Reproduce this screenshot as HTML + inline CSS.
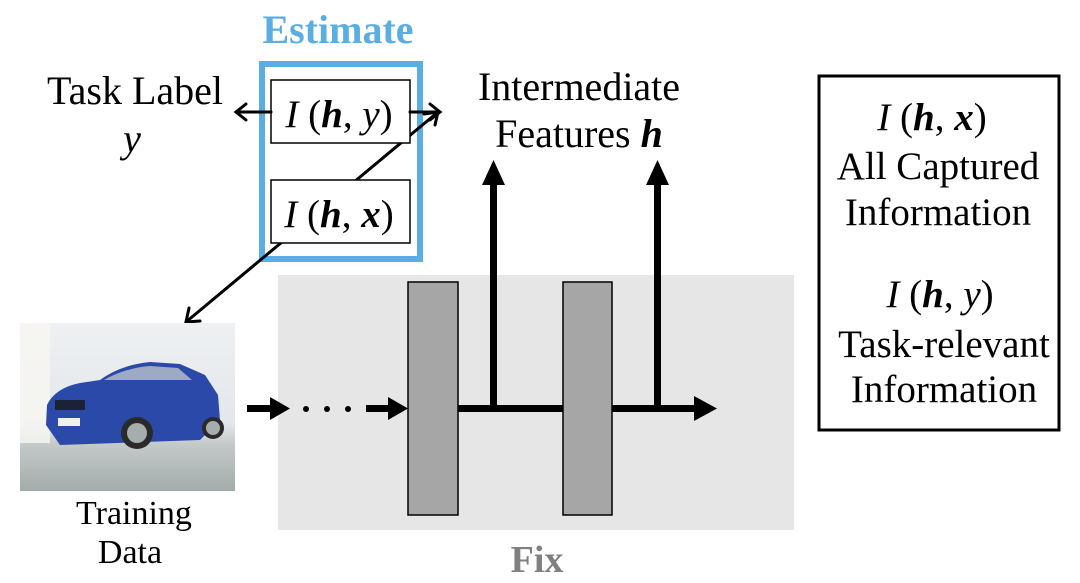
<!DOCTYPE html>
<html><head><meta charset="utf-8"><style>
html,body{margin:0;padding:0;background:#fff;}
svg{display:block;}
text{font-family:"Liberation Serif",serif;}
</style></head><body>
<svg width="1080" height="583" viewBox="0 0 1080 583" xmlns="http://www.w3.org/2000/svg">
<defs>
<linearGradient id="wall" x1="0" y1="0" x2="0" y2="1">
<stop offset="0" stop-color="#eef0f2"/><stop offset="0.6" stop-color="#e4e7ea"/><stop offset="0.72" stop-color="#c4cac9"/><stop offset="1" stop-color="#a3acaa"/></linearGradient>
</defs>
<rect x="278" y="275" width="516" height="255" fill="#e6e6e6"/>
<text x="537" y="572" font-size="38" font-weight="bold" fill="#808080" text-anchor="middle">Fix</text>

<text x="338" y="43" font-size="40" font-weight="bold" fill="#5aaee2" text-anchor="middle">Estimate</text>
<rect x="262" y="64" width="158" height="195" fill="none" stroke="#5aaee2" stroke-width="6"/>

<g stroke="#000" stroke-width="3" fill="none" stroke-linecap="round">
<line x1="186" y1="322" x2="438" y2="112"/>
<polyline points="189,308 186,322 200,321"/>
<polyline points="424,114 438,112 435,125"/>
</g>

<rect x="271" y="80" width="139" height="63" fill="#fff" stroke="#000" stroke-width="1.5"/>
<rect x="271" y="180" width="139" height="63" fill="#fff" stroke="#000" stroke-width="1.5"/>
<text x="339" y="127" font-size="39" text-anchor="middle" font-style="italic">I<tspan font-style="normal"> (</tspan><tspan font-weight="bold">h</tspan><tspan font-style="normal">, </tspan>y<tspan font-style="normal">)</tspan></text>
<text x="339" y="227" font-size="39" text-anchor="middle" font-style="italic">I<tspan font-style="normal"> (</tspan><tspan font-weight="bold">h</tspan><tspan font-style="normal">, </tspan><tspan font-weight="bold">x</tspan><tspan font-style="normal">)</tspan></text>

<text x="135" y="104" font-size="40" text-anchor="middle">Task Label</text>
<text x="132" y="152" font-size="40" text-anchor="middle" font-style="italic">y</text>

<text x="579" y="100" font-size="40" text-anchor="middle">Intermediate</text>
<text x="579" y="147" font-size="40" text-anchor="middle">Features <tspan font-weight="bold" font-style="italic">h</tspan></text>

<g stroke="#000" stroke-width="3" fill="none" stroke-linecap="round">
<line x1="271" y1="112" x2="236" y2="112"/>
<polyline points="246,104 236,112 246,120"/>
<line x1="410" y1="112" x2="440" y2="112"/>
<polyline points="430,104 440,112 430,120"/>
</g>

<!-- car image -->
<rect x="20" y="323" width="215" height="168" fill="url(#wall)"/>
<rect x="20" y="323" width="30" height="120" fill="#f7f6f2" opacity="0.8"/>
<path d="M46,425 L47,405 Q55,388 80,383 L100,380 Q120,365 150,362 L180,364 L205,375 L218,395 L220,420 L200,440 L60,445 Z" fill="#2b49a8"/>
<path d="M104,380 Q125,368 150,366 L178,368 L192,380 Z" fill="#9eaac4"/>
<rect x="55" y="400" width="30" height="10" fill="#1c2236"/>
<rect x="58" y="418" width="22" height="8" fill="#f0f0f0"/>
<circle cx="137" cy="433" r="16" fill="#2a2a2a"/><circle cx="137" cy="433" r="10" fill="#a5adad"/>
<circle cx="213" cy="428" r="11" fill="#2a2a2a"/><circle cx="213" cy="428" r="7" fill="#a5adad"/>

<text x="134" y="524" font-size="34" text-anchor="middle">Training</text>
<text x="130" y="563" font-size="34" text-anchor="middle">Data</text>

<rect x="408" y="282" width="50" height="233" fill="#a6a6a6" stroke="#000" stroke-width="1.5"/>
<rect x="563" y="282" width="49" height="233" fill="#a6a6a6" stroke="#000" stroke-width="1.5"/>
<g fill="#000">
<rect x="247" y="405" width="25" height="7"/>
<polygon points="270,397 290,408.5 270,420"/>
<circle cx="306" cy="409" r="3"/><circle cx="327" cy="409" r="3"/><circle cx="348" cy="409" r="3"/>
<rect x="366" y="405" width="24" height="7"/>
<polygon points="388,397 408,408.5 388,420"/>
<rect x="458" y="405" width="105" height="7"/>
<rect x="490" y="182" width="7" height="226"/>
<polygon points="482,185 493.5,160 505,185"/>
<rect x="612" y="405" width="84" height="7"/>
<polygon points="694,396 717,408.5 694,421"/>
<rect x="654" y="182" width="7" height="226"/>
<polygon points="646,185 657.5,160 669,185"/>
</g>

<rect x="819" y="76" width="240" height="354" fill="none" stroke="#000" stroke-width="3"/>
<text x="932" y="130" font-size="39" text-anchor="middle" font-style="italic">I<tspan font-style="normal"> (</tspan><tspan font-weight="bold">h</tspan><tspan font-style="normal">, </tspan><tspan font-weight="bold">x</tspan><tspan font-style="normal">)</tspan></text>
<text x="938" y="179" font-size="39" text-anchor="middle">All Captured</text>
<text x="938" y="225" font-size="39" text-anchor="middle">Information</text>
<text x="940" y="307" font-size="39" text-anchor="middle" font-style="italic">I<tspan font-style="normal"> (</tspan><tspan font-weight="bold">h</tspan><tspan font-style="normal">, </tspan>y<tspan font-style="normal">)</tspan></text>
<text x="944" y="357" font-size="39" text-anchor="middle">Task-relevant</text>
<text x="944" y="402" font-size="39" text-anchor="middle">Information</text>
</svg>
</body></html>
